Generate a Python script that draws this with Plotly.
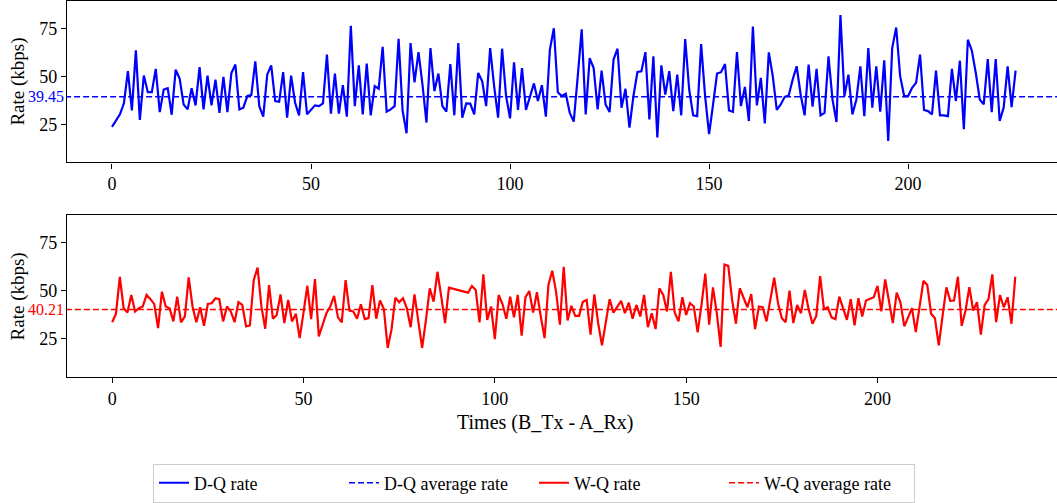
import plotly.graph_objects as go

# ---------------- data ----------------
dq_rate = [
    23.6, 27.0, 30.2, 36.0, 52.8, 32.3, 63.7, 27.3, 50.5, 41.8,
    41.8, 54.0, 31.4, 43.2, 43.9, 30.0, 53.6, 49.0, 35.4, 32.8,
    43.9, 34.9, 54.9, 32.8, 50.5, 34.9, 48.4, 31.0, 49.8, 31.4,
    51.9, 56.3, 32.8, 33.7, 39.8, 40.3, 58.0, 34.5, 29.0, 51.0,
    55.9, 37.2, 36.8, 52.3, 28.5, 50.5, 36.3, 29.7, 52.3, 30.2,
    32.3, 34.9, 34.5, 35.9, 61.5, 30.6, 51.6, 30.6, 45.5, 29.0,
    76.6, 34.5, 55.9, 30.2, 56.8, 29.7, 45.0, 43.6, 65.6, 31.6,
    32.8, 34.5, 69.8, 32.3, 20.3, 67.5, 47.0, 62.8, 45.8, 25.9,
    64.9, 42.4, 51.6, 34.5, 31.6, 56.6, 29.7, 67.5, 28.5, 35.9,
    35.8, 30.2, 51.9, 47.6, 34.5, 64.9, 45.0, 28.5, 64.6, 39.8,
    28.1, 57.5, 32.5, 54.5, 32.5, 38.9, 46.4, 37.2, 45.5, 29.0,
    64.0, 75.3, 41.8, 39.8, 41.0, 31.0, 26.4, 50.0, 74.8, 30.2,
    59.7, 54.5, 32.8, 53.1, 35.4, 31.4, 58.9, 64.6, 33.7, 43.6,
    23.3, 39.8, 52.4, 52.8, 62.8, 27.6, 60.6, 18.1, 55.9, 40.6,
    52.8, 31.9, 51.0, 29.7, 69.6, 43.2, 29.7, 29.3, 67.0, 39.8,
    19.8, 35.4, 51.6, 52.3, 56.6, 32.3, 31.6, 62.8, 34.5, 44.6,
    26.7, 76.2, 34.9, 49.3, 25.5, 62.7, 50.2, 32.5, 35.4, 39.4,
    40.1, 48.4, 55.4, 40.6, 29.7, 56.3, 34.2, 54.0, 29.7, 31.0,
    60.6, 38.0, 26.2, 82.3, 39.8, 51.0, 30.2, 38.0, 55.4, 29.3,
    64.9, 33.7, 55.4, 31.6, 58.5, 16.3, 64.9, 75.7, 50.2, 39.8,
    39.8, 44.1, 46.7, 61.5, 32.5, 31.9, 30.2, 53.1, 29.7, 29.7,
    29.3, 54.0, 37.2, 58.3, 22.4, 69.3, 63.7, 51.9, 38.0, 35.4,
    59.2, 31.4, 59.2, 26.7, 33.7, 55.4, 34.0, 53.1,
]
dq_times = list(range(len(dq_rate)))

wq_times = list(range(0, 89)) + list(range(93, 237))
wq_rate = [
    33.6, 38.0, 57.3, 40.9, 38.6, 47.8, 39.2, 40.9, 41.8, 47.8,
    45.6, 43.0, 30.5, 49.5, 41.8, 40.9, 34.0, 46.9, 33.5, 36.6,
    57.0, 41.8, 33.6, 41.4, 31.7, 43.1, 43.5, 46.1, 45.6, 34.0,
    41.8, 39.2, 33.6, 44.0, 42.6, 31.4, 31.9, 55.6, 62.1, 41.8,
    30.2, 53.0, 35.4, 37.4, 48.1, 33.1, 45.2, 34.0, 38.0, 25.3,
    38.6, 52.6, 35.2, 56.1, 26.2, 32.3, 38.3, 41.8, 47.3, 36.1,
    33.5, 55.6, 39.7, 39.2, 35.4, 43.0, 35.2, 35.7, 53.0, 35.4,
    44.9, 40.4, 20.2, 29.7, 46.4, 44.0, 46.1, 40.9, 31.0, 48.1,
    33.1, 20.2, 34.8, 51.3, 44.3, 59.9, 46.9, 33.1, 51.6,
    49.0, 52.5, 50.4, 33.5, 58.5, 34.8, 41.8,
    24.8, 47.8, 43.1, 35.4, 46.9, 36.2, 47.8, 26.6, 46.6, 49.9,
    38.6, 49.2, 36.6, 25.3, 53.0, 60.4, 49.5, 32.3, 62.5, 34.5,
    42.1, 36.9, 36.9, 44.3, 45.2, 27.1, 48.1, 33.1, 21.5, 34.8,
    45.6, 38.6, 41.8, 44.7, 38.3, 43.8, 35.4, 42.6, 36.6, 47.8,
    31.0, 38.3, 30.0, 51.3, 47.8, 39.2, 59.9, 38.6, 34.0, 46.6,
    37.4, 43.5, 41.8, 28.3, 42.6, 59.0, 32.3, 51.8, 38.3, 20.7,
    63.7, 63.0, 45.2, 32.8, 51.3, 46.6, 41.4, 48.3, 30.0, 41.8,
    41.4, 34.0, 45.2, 56.8, 43.5, 35.7, 33.6, 50.0, 33.1, 42.6,
    38.3, 50.4, 40.4, 32.8, 36.9, 57.6, 40.4, 41.4, 36.1, 35.2,
    46.9, 40.9, 34.8, 45.6, 31.9, 46.1, 36.6, 44.9, 45.6, 46.6,
    52.5, 39.2, 55.9, 44.0, 33.1, 49.0, 43.8, 31.4, 36.6, 40.9,
    28.5, 42.6, 55.2, 53.0, 38.0, 35.7, 21.5, 36.9, 51.8, 44.7,
    44.9, 57.3, 31.7, 39.7, 51.8, 39.7, 44.0, 27.1, 42.6, 45.6,
    58.5, 33.6, 47.8, 41.4, 46.6, 32.8, 57.3,
]

dq_avg = 39.45
wq_avg = 40.21

x_ticks = [0, 50, 100, 150, 200]
y_ticks = [25, 50, 75]

series_names = ["D-Q rate", "D-Q average rate", "W-Q rate", "W-Q average rate"]
BLUE = "#0000ff"
RED = "#ff0000"
FONT = "Liberation Serif"

# axis ranges (matplotlib-like margins; right edge runs past the picture)
x1_range = [-11.3, 237.4]
x2_range = [-11.8, 246.9]
y_range = [5.0, 89.6]

fig = go.Figure()
fig.add_trace(go.Scatter(x=dq_times, y=dq_rate, mode="lines", name=series_names[0],
                         line=dict(color=BLUE, width=2.2), xaxis="x", yaxis="y"))
fig.add_trace(go.Scatter(x=[x1_range[0] - 5, x1_range[1] + 5], y=[dq_avg, dq_avg], mode="lines",
                         name=series_names[1], line=dict(color=BLUE, width=1.4, dash="6px,3px"),
                         xaxis="x", yaxis="y"))
fig.add_trace(go.Scatter(x=wq_times, y=wq_rate, mode="lines", name=series_names[2],
                         line=dict(color=RED, width=2.2), xaxis="x2", yaxis="y2"))
fig.add_trace(go.Scatter(x=[x2_range[0] - 5, x2_range[1] + 5], y=[wq_avg, wq_avg], mode="lines",
                         name=series_names[3], line=dict(color=RED, width=1.4, dash="6px,3px"),
                         xaxis="x2", yaxis="y2"))

W, H = 1057, 503
ML, MR, MT, MB = 67, 0, 1, 124
plot_h = H - MT - MB

def py(pix):
    return (H - MB - pix) / plot_h

def px(pix):
    return (pix - ML) / (W - ML - MR)

TICK_SIZE = 18
TITLE_SIZE = 19
XTITLE_SIZE = 20
LEGEND_SIZE = 18

axis_common = dict(showgrid=False, zeroline=False, showline=True, linecolor="black", linewidth=1.2,
                   ticks="outside", ticklen=5, tickwidth=1, tickcolor="black",
                   tickfont=dict(family=FONT, size=TICK_SIZE, color="black"))

fig.update_layout(
    width=W, height=H,
    margin=dict(l=ML, r=MR, t=MT, b=MB, pad=0),
    plot_bgcolor="white", paper_bgcolor="white",
    font=dict(family=FONT, size=16, color="black"),
    xaxis=dict(domain=[0, 1], range=x1_range, tickvals=x_ticks, anchor="y", mirror=True, **axis_common),
    yaxis=dict(domain=[py(163.3), 1], range=y_range, tickvals=y_ticks, anchor="x", **axis_common),
    xaxis2=dict(domain=[0, 1], range=x2_range, tickvals=x_ticks, anchor="y2", mirror=True, **axis_common),
    yaxis2=dict(domain=[0, py(216)], range=y_range, tickvals=y_ticks, anchor="x2", **axis_common),
    showlegend=True,
    legend=dict(orientation="h", x=px(534), xanchor="center", y=py(466), yanchor="top",
                bordercolor="#cccccc", borderwidth=1, bgcolor="white",
                entrywidth=145, entrywidthmode="pixels",
                font=dict(family=FONT, size=LEGEND_SIZE, color="black"), traceorder="normal"),
    annotations=[
        dict(text="Rate (kbps)", xref="paper", yref="paper", x=px(18), y=py(82),
             textangle=-90, showarrow=False, xanchor="center", yanchor="middle",
             font=dict(family=FONT, size=TITLE_SIZE, color="black")),
        dict(text="Rate (kbps)", xref="paper", yref="paper", x=px(18), y=py(298),
             textangle=-90, showarrow=False, xanchor="center", yanchor="middle",
             font=dict(family=FONT, size=TITLE_SIZE, color="black")),
        dict(text="Times (B_Tx - A_Rx)", xref="paper", yref="paper", x=px(545), y=py(425),
             showarrow=False, xanchor="center", yanchor="middle",
             font=dict(family=FONT, size=XTITLE_SIZE, color="black")),
        dict(text=f"{dq_avg:.2f}", xref="paper", yref="y", x=0, y=dq_avg, xshift=-1,
             showarrow=False, xanchor="right", yanchor="middle",
             font=dict(family=FONT, size=16, color=BLUE)),
        dict(text=f"{wq_avg:.2f}", xref="paper", yref="y2", x=0, y=wq_avg, xshift=-1,
             showarrow=False, xanchor="right", yanchor="middle",
             font=dict(family=FONT, size=16, color=RED)),
    ],
)

fig.write_html("out.html")
